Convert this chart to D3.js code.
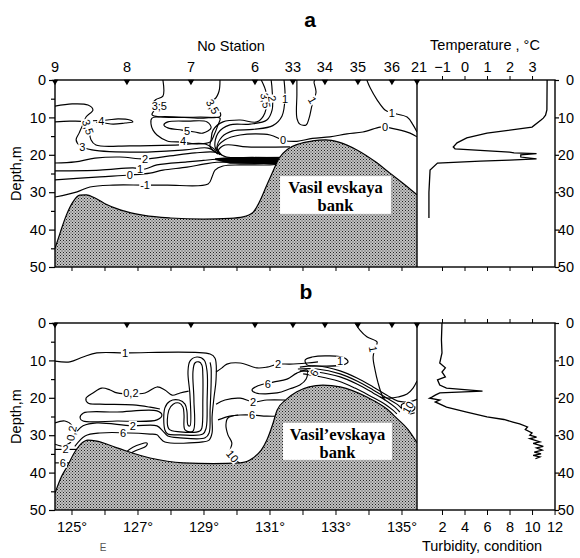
<!DOCTYPE html>
<html><head><meta charset="utf-8">
<script src="https://cdn.jsdelivr.net/npm/d3@7/dist/d3.min.js"></script>
<style>
body{margin:0;background:#fff;}
svg text{font-family:"Liberation Sans",Arial,sans-serif;fill:#000;}
</style></head><body>
<svg id="chart" width="580" height="558"></svg>
<script>
// ---------- DATA ----------
const stationLon = [124.5,126.68,128.62,130.56,131.71,132.68,133.68,134.71,135.47];
const stationLabels = ["9","8","7","6","33","34","35","36","21"];
const depthTicks = [0,10,20,30,40,50];
const depthMinor = [5,15,25,35,45];
const lonTicks = [125,126,127,128,129,130,131,132,133,134,135];
const tempTicks = [-1,0,1,2,3];
const turbTicks = [2,4,6,8,10,12];

// sea floor [lon, depth]
const bankA = [[124.5,45],[124.65,41],[124.85,36],[125.05,32.5],[125.25,30.8],[125.45,30.7],[125.7,31.5],[126.0,33],[126.5,34.8],[127.2,36.2],[128.0,36.9],[129.0,37.2],[129.8,37.0],[130.2,36.6],[130.5,35.4],[130.7,32.5],[130.9,28.5],[131.1,24.5],[131.3,20.8],[131.55,18.5],[131.85,17.2],[132.3,16.3],[132.7,16.0],[133.1,16.6],[133.65,18.7],[134.2,21.8],[134.65,24.9],[135.1,28],[135.47,30.7]];
const bankB = [[124.5,45.5],[124.7,41],[124.86,38.5],[125.1,34.5],[125.3,32.2],[125.5,31.3],[125.77,31.6],[126.38,33.4],[127.38,36.1],[128.38,37.4],[129.3,37.6],[130.11,37.4],[130.5,36.1],[130.75,34],[130.92,31.3],[131.1,27],[131.23,23.3],[131.5,20.5],[131.83,18.4],[132.2,17.1],[132.62,16.6],[133.14,17.1],[133.95,19.8],[134.56,23],[134.86,25.5],[135.2,28.5],[135.47,32]];

// vertical profiles [depth, value]
const tempProfile = [[0,3.67],[8,3.66],[9.4,3.6],[10.2,3.5],[10.7,3.4],[12.6,3.0],[14.2,1.0],[15.5,0.1],[16.8,-0.33],[17.9,-0.5],[18.4,-0.42],[19.3,2.0],[19.5,2.2],[19.7,3.2],[20.0,2.5],[20.6,2.5],[21.1,3.2],[21.4,2.0],[21.7,0.7],[22.2,-1.2],[24.1,-1.53],[30,-1.58],[36.9,-1.58]];
const turbProfile = [[0,2.0],[4.5,1.95],[8,2.0],[10.7,1.8],[12,2.3],[13.1,2.0],[14.4,2.3],[15.2,1.6],[16.6,1.8],[17.4,2.4],[18.2,5.6],[18.7,1.8],[19.3,1.4],[19.8,1.1],[20.1,0.9],[20.6,1.8],[21.1,1.4],[22.5,2.4],[23.8,4.2],[25.1,6.0],[25.8,7.5],[26.5,8.3],[27.0,8.9],[27.8,9.6],[28.5,9.4],[29.4,10.0],[30.0,9.8],[30.5,10.4],[30.9,9.8],[31.8,10.7],[32.2,10.1],[33.0,11.0],[33.4,10.4],[34.0,10.9],[34.5,10.2],[35.0,10.8],[35.4,10.1],[35.8,10.7],[36.3,10.3]];

// ---- temperature contours, section a [lon, depth] ----
const a3 = [[124.5,7.0],[125.02,6.4],[125.5,6.7],[125.65,8.0],[125.44,9.9],[125.35,11.8],[125.23,14.2],[125.14,16.0],[125.26,17.6],[125.62,18.7],[127.08,19.3],[128.44,18.7],[129.14,18.2],[129.45,19.8]];
const a35 = [[124.5,11.2],[124.95,11.0],[125.41,11.2],[125.62,12.3],[125.56,13.9],[125.59,16.0],[125.74,17.4],[126.77,17.6],[128.14,17.4],[129.05,17.1],[129.4,19.0]];
const a4tongue = [[125.65,10.9],[126.08,10.7],[126.41,10.4],[126.77,10.7],[126.86,11.2],[126.62,11.5],[126.26,11.8],[126.0,11.5],[125.75,11.3]];
const a35top = [[127.77,0],[127.77,4.3],[127.56,5.2],[127.44,6.5],[127.5,8.0],[127.44,9.3],[127.7,9.9],[128.9,9.9],[129.5,9.8],[129.5,8.6],[129.26,7.0],[129.14,5.6],[129.35,5.0],[129.47,3.0],[129.5,0]];
const a4loop = [[127.44,10.2],[128.89,10.2],[129.5,10.2],[129.44,12.0],[129.32,14.7],[129.2,16.6],[128.8,17.1],[128.38,16.6],[127.9,16.3],[127.59,14.7],[127.47,13.4],[127.41,11.8]];
const a5loop = [[127.92,11.2],[128.53,11.0],[129.11,11.2],[129.23,12.8],[128.98,14.2],[128.74,13.9],[128.35,13.4],[127.92,12.8],[127.8,12.0]];
const aR35 = [[130.75,0],[130.9,3.5],[130.86,8.8],[130.62,11.2],[130.11,10.7],[129.59,11.2],[129.29,13.4],[129.23,16.0],[129.2,17.9],[129.45,19.8]];
const aR2 = [[131.05,0],[131.08,2.7],[131.08,8.0],[130.92,10.7],[130.41,11.8],[129.8,12.0],[129.44,14.2],[129.35,17.9],[129.5,19.9]];
const aR1 = [[131.44,0],[131.47,4.5],[131.38,9.6],[131.1,12.2],[130.5,13.2],[129.89,13.6],[129.56,15.2],[129.41,18.2],[129.55,20.0]];
const aR0 = [[129.5,20.0],[129.4,18.5],[129.65,16.0],[130.11,14.7],[131.02,14.7],[131.41,16.1],[131.83,16.4],[132.3,15.6],[132.83,15.2],[133.35,14.4],[133.83,13.9],[134.35,12.6],[134.5,12.6],[134.86,13.2],[135.26,14.2],[135.47,15.2]];
const aR0low = [[129.55,20.1],[129.45,18.9],[129.65,17.4],[130.32,17.9],[131.62,17.9]];
const a1tongue = [[131.83,0],[131.83,4.0],[131.83,10.2],[131.92,11.8],[132.11,12.0],[132.2,10.2],[132.29,6.7],[132.41,3.2],[132.35,0.5],[132.38,0]];
const a1right = [[133.95,0],[134.05,2.1],[134.26,5.3],[134.5,8.0],[134.71,8.8],[135.17,9.9],[135.35,12.0],[135.47,13.9]];
const a2 = [[124.5,22.2],[125.11,21.9],[125.71,20.9],[126.47,20.6],[127.23,21.1],[127.98,20.3],[128.74,19.5],[129.35,19.3],[129.7,20.6],[130.5,20.7],[131.5,20.8]];
const a1 = [[124.5,24.3],[125.86,24.1],[126.86,23.5],[127.23,23.8],[127.59,22.7],[128.5,21.9],[129.0,21.5],[129.4,21.2],[130.5,21.4],[131.5,21.4]];
const a0 = [[124.5,26.7],[125.86,25.9],[126.77,25.4],[127.38,24.9],[127.77,24.1],[128.5,23.3],[129.0,22.5],[129.4,22.0],[130.5,22.1],[131.5,22.1]];
const am1 = [[124.5,31.3],[125.17,29.9],[125.56,28.6],[126.26,28.1],[127.17,28.1],[127.89,28.1],[129.14,27.8],[129.26,25.9],[129.35,24.1],[129.59,23.0],[130.11,22.7],[131.02,22.7],[131.41,22.4]];
const bandA = [[129.35,20.9],[129.8,20.6],[131.6,20.5],[131.6,22.5],[129.8,22.4],[129.35,21.4]];
const labelsA = [[125.5,12.6,"3,5",72],[125.33,17.8,"3",0],[125.9,10.9,"4",0],[127.66,7.0,"3;5",0],[129.28,7.1,"3,5",60],[128.5,13.6,"5",0],[128.38,16.4,"4",0],[127.23,21.0,"2",0],[127.08,23.8,"1",0],[126.77,25.5,"0",0],[127.23,28.1,"-1",0],[130.88,5.5,"3,5",80],[131.08,5.0,"2",80],[131.47,5.0,"1",0],[131.41,16.1,"0",0],[132.3,5.4,"1",60],[134.71,8.8,"1",0],[134.5,12.7,"0",0]];

// ---- turbidity contours, section b [lon, depth] ----
const b1 = [[124.5,10.2],[124.95,10.4],[125.35,9.1],[125.77,8.0],[126.62,8.0],[129.2,8.3],[129.35,9.4],[129.38,15.2],[129.32,19.8],[129.26,25.1],[129.26,29.4],[129.17,31.3],[128.98,31.8],[127.83,31.8],[127.68,30.7],[127.59,29.9],[127.38,29.7],[125.86,29.4],[125.41,30.2],[125.1,33.0]];
const bFinger = [[127.83,28.6],[127.83,22.7],[127.98,20.9],[128.26,20.6],[128.44,21.7],[128.5,23.8],[128.53,27.3],[128.59,27.5],[128.59,19.3],[128.53,13.1],[128.59,10.2],[128.8,9.1],[129.02,9.9],[129.11,13.1],[129.11,20.6],[129.08,28.1],[128.98,29.7],[128.29,29.9],[127.92,29.7]];
const bFinger2 = [[127.95,28.3],[127.95,23.3],[128.08,21.7],[128.26,21.4],[128.38,22.5],[128.41,24.6],[128.44,28.6],[128.68,28.9],[128.71,20.6],[128.68,13.1],[128.74,10.7],[128.86,10.4],[128.95,11.2],[128.98,13.9],[128.98,20.6],[128.95,28.1],[128.89,28.9],[128.29,29.1]];
const b2 = [[125.17,28.9],[125.35,27.5],[125.77,26.7],[126.83,27.5],[127.59,27.5],[127.77,28.9],[127.92,30.2],[128.29,30.7],[129.05,30.7],[129.17,29.4],[129.2,23.3],[129.23,16.6],[129.23,12.0],[129.2,10.5]];
const b02 = [[127.68,23.0],[127.38,22.5],[126.86,21.9],[125.86,21.7],[125.5,21.4],[125.44,20.1],[125.65,18.7],[125.92,17.4],[126.17,17.9],[126.38,18.7],[127.23,18.7],[127.59,17.1],[127.83,17.9],[128.05,19.3],[128.29,18.7],[128.55,18.2]];
const bLoop2 = [[125.26,25.4],[125.35,24.1],[126.38,23.8],[127.59,23.5],[127.74,24.6],[127.59,25.9],[126.38,26.2],[125.35,26.2]];
const bCircle = [[124.5,26.7],[124.8,26.2],[125.02,27.5],[125.08,30.2],[124.95,32.1],[124.71,32.9],[124.5,32.4]];
const bLeft2 = [[124.5,33.8],[125.2,33.8]];
const bLeft6 = [[124.5,37.4],[125.0,37.4]];
const bR2 = [[129.38,13.1],[129.56,12.0],[129.71,11.0],[130.11,10.7],[130.62,12.0],[130.92,11.8],[131.26,11.0],[131.62,11.0],[132.14,10.7],[132.47,10.4]];
const bEllipse = [[132.08,9.9],[132.29,9.1],[132.83,8.8],[133.29,9.4],[133.38,10.4],[133.23,11.2],[132.53,11.5],[132.14,11.2]];
const bPack1 = [[131.92,11.8],[132.44,11.5],[133.14,12.8],[133.65,14.7],[134.14,17.1],[134.56,19.3],[134.89,20.9],[135.26,21.0],[135.47,20.4]];
const bPack2 = [[131.86,12.3],[132.44,12.3],[133.14,13.6],[133.65,15.5],[134.14,17.9],[134.56,20.1],[134.86,21.7],[135.0,22.8],[135.2,24.3],[135.4,24.0]];
const bPack3 = [[131.92,12.8],[132.44,13.1],[133.14,14.4],[133.65,16.3],[134.14,18.7],[134.56,20.9],[134.8,22.5],[134.95,23.8]];
const bPack4 = [[132.02,13.6],[132.44,14.2],[133.08,15.5],[133.59,17.4],[134.05,19.5],[134.5,21.7],[134.74,23.3],[134.86,24.3]];
const b10loop = [[135.0,21.9],[135.2,21.4],[135.38,22.0],[135.4,23.0],[135.25,23.8],[135.05,23.6]];
const bTop1 = [[133.59,0],[133.74,1.9],[133.95,3.7],[134.26,5.1],[134.2,6.7],[134.14,9.1],[134.2,12.6],[134.29,16.0],[134.41,19.3],[134.5,20.6]];
const bRight = [[135.47,15.5],[135.35,17.4],[135.17,19.0],[134.89,19.8],[134.65,20.1],[134.35,19.8]];
const b6tongue = [[132.14,12.6],[131.83,13.4],[131.53,15.0],[131.11,15.8],[130.65,16.8],[130.47,17.9],[130.59,18.7],[131.23,18.7],[131.62,17.6],[131.92,16.6],[132.11,15.0]];
const bR2low = [[129.38,21.7],[129.65,20.6],[130.11,20.1],[130.5,21.1],[130.92,20.6],[131.47,20.6]];
const bR6low = [[129.44,25.9],[129.8,24.9],[130.11,24.6],[130.47,24.6],[130.92,24.9],[131.32,24.9]];
const b10 = [[130.05,24.6],[129.74,25.4],[129.68,27.3],[129.74,29.9],[129.86,32.1],[129.8,34.5],[129.92,36.1],[130.11,37.6]];
const bTongue = [[126.62,34.8],[126.86,33.2],[127.29,32.1],[127.26,32.9],[126.92,34.2],[126.68,35.3]];
const labelsB = [[126.62,8.0,"1",0],[126.8,18.7,"0,2",0],[126.86,27.5,"2",0],[126.56,29.5,"6",0],[131.26,11.0,"2",0],[133.14,10.3,"1",0],[130.95,16.3,"6",0],[132.35,13.3,"6",-60],[130.5,21.1,"2",0],[130.47,24.6,"6",0],[129.88,35.6,"10",50],[135.2,22.6,"10",-60],[134.14,7.0,"1",80],[125.0,29.5,"0,2",-80],[124.82,33.8,"2",0],[124.74,37.4,"6",0]];

// ---------- DRAWING ----------
const svg = d3.select("#chart");
const X0 = 55, X1 = 417, X2 = 555;
const x = d3.scaleLinear().domain([124.5,135.47]).range([X0,X1]);
const tempX = d3.scaleLinear().domain([-2.11,4.02]).range([X1,X2]);
const turbX = d3.scaleLinear().domain([-0.22,12.04]).range([X1,X2]);
const yA = d3.scaleLinear().domain([0,50]).range([80,267]);
const yB = d3.scaleLinear().domain([0,50]).range([323,510]);

const defs = svg.append("defs");
const pat = defs.append("pattern").attr("id","stip").attr("width",3).attr("height",3).attr("patternUnits","userSpaceOnUse");
pat.append("rect").attr("width",3).attr("height",3).attr("fill","#c2c2c2");
pat.append("rect").attr("width",1).attr("height",1).attr("fill","#222");
pat.append("rect").attr("x",1.5).attr("y",1.5).attr("width",1).attr("height",1).attr("fill","#3a3a3a");

const contoursA = [a3,a35,a4tongue,a35top,{c:a4loop},{c:a5loop},aR35,aR2,aR1,aR0,aR0low,a1tongue,a1right,a2,a1,a0,am1];
const contoursB = [b1,{c:bFinger},{c:bFinger2},b2,b02,{c:bLoop2},bCircle,bLeft2,bLeft6,bR2,{c:bEllipse},bPack1,bPack2,bPack3,bPack4,{c:b10loop},bTop1,bRight,{c:b6tongue},bR2low,bR6low,b10,bTongue];

function panel(y, key, contours, labels, bank, band, boxInfo) {
  const g = svg.append("g");
  defs.append("clipPath").attr("id","clip"+key).append("rect")
    .attr("x",X0).attr("y",y(0)).attr("width",X1-X0).attr("height",y(50)-y(0));
  const cg = g.append("g").attr("clip-path",`url(#clip${key})`);
  const lineOpen = d3.line().x(d=>x(d[0])).y(d=>y(d[1])).curve(d3.curveCatmullRom.alpha(0.5));
  const lineClosed = d3.line().x(d=>x(d[0])).y(d=>y(d[1])).curve(d3.curveCatmullRomClosed.alpha(0.5));
  contours.forEach(c => {
    const closed = !Array.isArray(c);
    cg.append("path").attr("d", closed ? lineClosed(c.c) : lineOpen(c))
      .attr("fill","none").attr("stroke","#000").attr("stroke-width",1.15);
  });
  if (band) {
    cg.append("path").attr("d", d3.line().x(d=>x(d[0])).y(d=>y(d[1])).curve(d3.curveLinearClosed)(band))
      .attr("fill","#000");
  }
  const area = d3.area().x(d=>x(d[0])).y0(y(50)).y1(d=>y(d[1])).curve(d3.curveMonotoneX);
  cg.append("path").attr("d", area(bank)).attr("fill","url(#stip)");
  cg.append("path").attr("d", d3.line().x(d=>x(d[0])).y(d=>y(d[1])).curve(d3.curveMonotoneX)(bank))
    .attr("fill","none").attr("stroke","#000").attr("stroke-width",1.2);
  // bank label box
  const bx0 = x(boxInfo.lon0), bx1 = x(boxInfo.lon1), by0 = y(boxInfo.d0), by1 = y(boxInfo.d1);
  g.append("rect").attr("x",bx0).attr("y",by0).attr("width",bx1-bx0).attr("height",by1-by0).attr("fill","#fff");
  const cx = (bx0+bx1)/2;
  g.append("text").attr("x",cx).attr("y",by0+17).attr("text-anchor","middle")
    .style("font-family","'Liberation Serif','Times New Roman',serif").style("font-weight","bold").style("font-size","16.5px")
    .text(boxInfo.t1);
  g.append("text").attr("x",cx).attr("y",by0+35).attr("text-anchor","middle")
    .style("font-family","'Liberation Serif','Times New Roman',serif").style("font-weight","bold").style("font-size","16.5px")
    .text("bank");
  // contour labels on white patches
  labels.forEach(l => {
    const lg = g.append("g").attr("transform",`translate(${x(l[0])},${y(l[1])}) rotate(${l[3]})`);
    const r = lg.append("rect").attr("fill","#fff");
    const t = lg.append("text").attr("text-anchor","middle").attr("dy","0.36em")
      .style("font-size","11px").text(l[2]);
    const bb = t.node().getBBox();
    r.attr("x",bb.x-1).attr("y",bb.y+1).attr("width",bb.width+2).attr("height",bb.height-2);
  });
  // frame
  g.append("rect").attr("x",X0).attr("y",y(0)).attr("width",X2-X0).attr("height",y(50)-y(0))
    .attr("fill","none").attr("stroke","#000").attr("stroke-width",1.4);
  g.append("line").attr("x1",X1).attr("x2",X1).attr("y1",y(0)).attr("y2",y(50)).attr("stroke","#000").attr("stroke-width",1.4);
  // station triangles
  stationLon.forEach(s => {
    g.append("path").attr("d", d3.symbol(d3.symbolTriangle, 18)())
      .attr("transform",`translate(${x(s)},${y(0)+1.5}) rotate(180)`).attr("fill","#000");
  });
  // depth axes
  const la = g.append("g").attr("transform",`translate(${X0},0)`)
    .call(d3.axisLeft(y).tickValues(depthTicks).tickSize(6).tickPadding(3));
  g.append("g").attr("transform",`translate(${X0},0)`)
    .call(d3.axisLeft(y).tickValues(depthMinor).tickSize(4).tickFormat(""));
  const ra = g.append("g").attr("transform",`translate(${X2},0)`)
    .call(d3.axisRight(y).tickValues(depthTicks).tickSize(4).tickPadding(4));
  ra.selectAll("text").attr("text-anchor","end").attr("x",19);
  [la, ra].forEach(a => a.selectAll("text").style("font-size","14.5px"));
  g.selectAll(".domain").remove();
  g.selectAll(".tick line").attr("stroke-width",1.2);
  g.append("text").attr("transform",`translate(21,${(y(0)+y(50))/2}) rotate(-90)`)
    .attr("text-anchor","middle").style("font-size","14.5px").text("Depth,m");
  return g;
}

// ----- panel a -----
const gA = panel(yA, "A", contoursA, labelsA, bankA, bandA,
  {lon0:131.32, lon1:134.68, d0:25.7, d1:35.8, t1:"Vasil evskaya"});
const top1 = gA.append("g").attr("transform",`translate(0,${yA(0)})`)
  .call(d3.axisTop(tempX).tickValues(tempTicks).tickSize(4).tickPadding(4).tickFormat(d3.format("d")));
top1.selectAll("text").style("font-size","14.5px");
top1.select(".domain").remove();
gA.append("g").attr("transform",`translate(0,${yA(50)})`)
  .call(d3.axisBottom(x).tickValues(lonTicks).tickSize(4).tickFormat("")).select(".domain").remove();
gA.append("g").attr("transform",`translate(0,${yA(50)})`)
  .call(d3.axisBottom(tempX).tickValues(tempTicks).tickSize(4).tickFormat("")).select(".domain").remove();
stationLon.forEach((s,i) => {
  gA.append("text").attr("x", x(s) + (i===stationLon.length-1 ? 2 : 0)).attr("y", 72)
    .attr("text-anchor","middle").style("font-size","14.5px").text(stationLabels[i]);
});
gA.append("path").datum(tempProfile)
  .attr("d", d3.line().x(d=>tempX(d[1])).y(d=>yA(d[0])))
  .attr("fill","none").attr("stroke","#000").attr("stroke-width",1.3);

// ----- panel b -----
const gB = panel(yB, "B", contoursB, labelsB, bankB, null,
  {lon0:131.41, lon1:134.71, d0:26.7, d1:36.6, t1:"Vasil\u2019evskaya"});
gB.append("g").attr("transform",`translate(0,${yB(0)})`)
  .call(d3.axisTop(turbX).tickValues([2,4,6,8,10]).tickSize(4).tickFormat("")).select(".domain").remove();
const bx = gB.append("g").attr("transform",`translate(0,${yB(50)})`)
  .call(d3.axisBottom(x).tickValues(lonTicks).tickSize(5).tickPadding(7).tickFormat(d => d % 2 ? d + "\u00b0" : ""));
bx.select(".domain").remove();
bx.selectAll("text").style("font-size","14.5px");
const tx = gB.append("g").attr("transform",`translate(0,${yB(50)})`)
  .call(d3.axisBottom(turbX).tickValues(turbTicks).tickSize(5).tickPadding(7));
tx.select(".domain").remove();
tx.selectAll("text").style("font-size","14.5px");
gB.append("path").datum(turbProfile)
  .attr("d", d3.line().x(d=>turbX(d[1])).y(d=>yB(d[0])))
  .attr("fill","none").attr("stroke","#000").attr("stroke-width",1.3);

// titles
svg.append("text").attr("x",310).attr("y",27).attr("text-anchor","middle")
  .style("font-size","21px").style("font-weight","bold").text("a");
svg.append("text").attr("x",306).attr("y",299).attr("text-anchor","middle")
  .style("font-size","21px").style("font-weight","bold").text("b");
svg.append("text").attr("x",231).attr("y",51).attr("text-anchor","middle").style("font-size","14.5px").text("No Station");
svg.append("text").attr("x",485).attr("y",50).attr("text-anchor","middle").style("font-size","14.5px").text("Temperature , \u00b0C");
svg.append("text").attr("x",482).attr("y",551).attr("text-anchor","middle").style("font-size","14.5px").text("Turbidity, condition");
svg.append("text").attr("x",103).attr("y",551).attr("text-anchor","middle").style("font-size","10px").style("fill","#555").text("E");
</script>
</body></html>
